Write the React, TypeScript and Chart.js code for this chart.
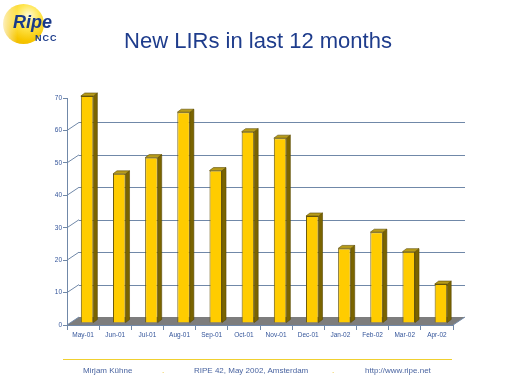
import React, { useEffect, useRef } from "react";
import { Chart, registerables } from "chart.js";

Chart.register(...registerables);

const months = ["May-01", "Jun-01", "Jul-01", "Aug-01", "Sep-01", "Oct-01", "Nov-01", "Dec-01", "Jan-02", "Feb-02", "Mar-02", "Apr-02"];
const newLirs = [70, 46, 51, 65, 47, 59, 57, 33, 23, 28, 22, 12];
const gridValues = [10, 20, 30, 40, 50, 60];
const yMin = 0;
const yMax = 70;
const yStep = 10;

const AXIS = "#7088a8";
const LABEL = "#34559a";
const WALL_DX = 12;
const WALL_DY = -8;
const BAR_DX = 4;
const BAR_DY = -2;
const SIDE_DX = 4;
const SIDE_DY = -3;

const threeD = {
  id: "threeD",
  beforeDraw(chart: any) {
    const { ctx, chartArea, scales } = chart;
    const y = scales.y;
    const y0 = y.getPixelForValue(0);
    ctx.save();
    ctx.fillStyle = "#7d7d7d";
    ctx.beginPath();
    ctx.moveTo(chartArea.left, y0);
    ctx.lineTo(chartArea.left + WALL_DX, y0 + WALL_DY);
    ctx.lineTo(chartArea.right + WALL_DX, y0 + WALL_DY);
    ctx.lineTo(chartArea.right, y0);
    ctx.closePath();
    ctx.fill();
    ctx.strokeStyle = AXIS;
    ctx.lineWidth = 1;
    for (const v of gridValues) {
      const py = Math.round(y.getPixelForValue(v) + WALL_DY) + 0.5;
      ctx.beginPath();
      ctx.moveTo(chartArea.left + WALL_DX, py);
      ctx.lineTo(chartArea.right + WALL_DX, py);
      ctx.stroke();
    }
    for (const v of [0, ...gridValues]) {
      const py = y.getPixelForValue(v);
      ctx.beginPath();
      ctx.moveTo(chartArea.left, py);
      ctx.lineTo(chartArea.left + WALL_DX, py + WALL_DY);
      ctx.stroke();
    }
    ctx.beginPath();
    ctx.moveTo(chartArea.right, y0);
    ctx.lineTo(chartArea.right + WALL_DX, y0 + WALL_DY);
    ctx.stroke();
    ctx.restore();
  },
  beforeDatasetsDraw(chart: any) {
    chart.ctx.save();
    chart.ctx.translate(BAR_DX, BAR_DY);
  },
  afterDatasetsDraw(chart: any) {
    const { ctx } = chart;
    const meta = chart.getDatasetMeta(0);
    for (const el of meta.data as any[]) {
      const p = el.getProps(["x", "y", "base", "width"], true);
      const left = p.x - p.width / 2;
      const right = p.x + p.width / 2;
      const top = p.y;
      const bottom = p.base;
      ctx.fillStyle = "#7a6400";
      ctx.strokeStyle = "#5a4a00";
      ctx.lineWidth = 0.6;
      ctx.beginPath();
      ctx.moveTo(right, top);
      ctx.lineTo(right + SIDE_DX, top + SIDE_DY);
      ctx.lineTo(right + SIDE_DX, bottom + SIDE_DY);
      ctx.lineTo(right, bottom);
      ctx.closePath();
      ctx.fill();
      ctx.stroke();
      ctx.fillStyle = "#b89c1a";
      ctx.beginPath();
      ctx.moveTo(left, top);
      ctx.lineTo(left + SIDE_DX, top + SIDE_DY);
      ctx.lineTo(right + SIDE_DX, top + SIDE_DY);
      ctx.lineTo(right, top);
      ctx.closePath();
      ctx.fill();
      ctx.stroke();
    }
    ctx.restore();
  },
};

export default function App() {
  const canvasRef = useRef<HTMLCanvasElement | null>(null);

  useEffect(() => {
    const canvas = canvasRef.current;
    if (!canvas) return;
    const chart = new Chart(canvas, {
      type: "bar",
      data: {
        labels: months,
        datasets: [
          {
            data: newLirs,
            backgroundColor: "#ffcc00",
            borderColor: "#6b5a10",
            borderWidth: 1,
            categoryPercentage: 1,
            barPercentage: 0.39,
            clip: false,
          } as any,
        ],
      },
      options: {
        animation: false,
        responsive: false,
        maintainAspectRatio: false,
        layout: { padding: { top: 98, right: 59, left: 0, bottom: 39 } },
        plugins: { legend: { display: false }, tooltip: { enabled: false }, title: { display: false } },
        scales: {
          x: {
            grid: { drawOnChartArea: false, drawTicks: true, tickLength: 5, color: AXIS },
            border: { display: true, color: AXIS },
            ticks: {
              color: LABEL,
              font: { family: "Arial, 'Liberation Sans', sans-serif", size: 6.5 },
              padding: 1,
              maxRotation: 0,
              autoSkip: false,
            },
            afterFit: (s: any) => {
              s.height = 20;
            },
          },
          y: {
            min: yMin,
            max: yMax,
            grid: { drawOnChartArea: false, drawTicks: true, tickLength: 4, color: AXIS },
            border: { display: true, color: AXIS },
            ticks: {
              stepSize: yStep,
              color: LABEL,
              font: { family: "Arial, 'Liberation Sans', sans-serif", size: 6.5 },
              padding: 1,
            },
            afterFit: (s: any) => {
              s.width = 67;
            },
          },
        },
      },
      plugins: [threeD],
    });
    return () => chart.destroy();
  }, []);

  const font = "Arial, 'Liberation Sans', sans-serif";
  const footText: React.CSSProperties = {
    position: "absolute",
    top: 367,
    fontFamily: font,
    fontSize: 8,
    lineHeight: "8px",
    color: "#4a64a0",
    whiteSpace: "nowrap",
  };

  return (
    <div style={{ position: "absolute", left: 0, top: 0, width: 512, height: 384, background: "#fff", overflow: "hidden" }}>
      <canvas ref={canvasRef} width={512} height={384} style={{ position: "absolute", left: 0, top: 0, width: 512, height: 384 }} />
      <div
        style={{
          position: "absolute",
          left: 3,
          top: 4,
          width: 41,
          height: 40,
          borderRadius: "50%",
          background:
            "linear-gradient(90deg, rgba(255,255,255,0.75) 0%, rgba(255,255,255,0) 35%), radial-gradient(circle at 62% 30%, #fffbd8 0%, #ffe650 30%, #f7c600 65%, #e6ae00 100%)",
        }}
      />
      <div
        style={{
          position: "absolute",
          left: 13,
          top: 13,
          fontFamily: font,
          fontSize: 18,
          lineHeight: "18px",
          fontWeight: "bold",
          fontStyle: "italic",
          color: "#1a3a8a",
          whiteSpace: "nowrap",
        }}
      >
        Ripe
      </div>
      <div
        style={{
          position: "absolute",
          left: 35,
          top: 33,
          fontFamily: font,
          fontSize: 9,
          lineHeight: "10px",
          fontWeight: "bold",
          letterSpacing: 1,
          color: "#1a3a8a",
          whiteSpace: "nowrap",
        }}
      >
        NCC
      </div>
      <div
        style={{
          position: "absolute",
          left: 0,
          width: 516,
          top: 30,
          textAlign: "center",
          fontFamily: font,
          fontSize: 22,
          lineHeight: "22px",
          color: "#1e3c8c",
          whiteSpace: "nowrap",
        }}
      >
        New LIRs in last 12 months
      </div>
      <div style={{ position: "absolute", left: 63, top: 359, width: 389, height: 1, background: "#f0d030" }} />
      <div style={{ ...footText, left: 83 }}>Mirjam Kühne</div>
      <div style={{ ...footText, left: 162, color: "#e8b800" }}>.</div>
      <div style={{ ...footText, left: 194 }}>RIPE 42, May 2002, Amsterdam</div>
      <div style={{ ...footText, left: 332, color: "#e8b800" }}>.</div>
      <div style={{ ...footText, left: 365 }}>http://www.ripe.net</div>
    </div>
  );
}
